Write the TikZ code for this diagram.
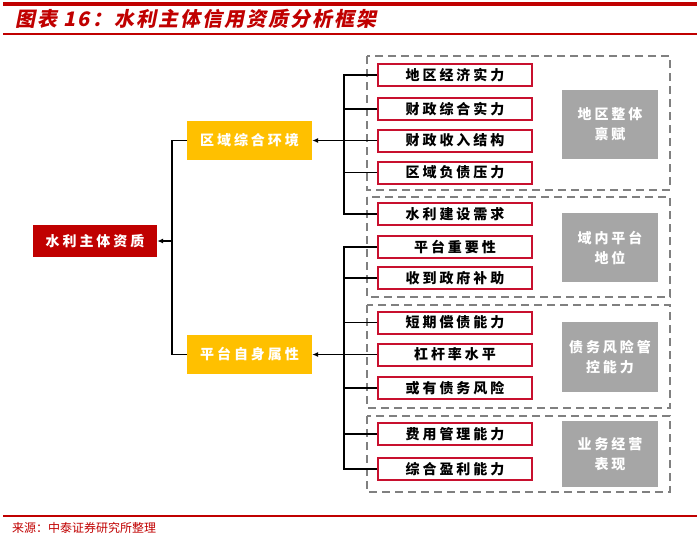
\documentclass[tikz,border=0pt]{standalone}
\usepackage{fontspec}
\usepackage{xcolor}
\usetikzlibrary{arrows.meta}
\newfontfamily\cjk[LetterSpace=21]{Noto Sans CJK SC}
\newfontfamily\cjktitle[FakeSlant=0.2,LetterSpace=10]{Noto Sans CJK SC}
\newfontfamily\cjknote{Noto Sans CJK SC}
\definecolor{deepred}{HTML}{C00000}
\definecolor{amber}{HTML}{FFC000}
\definecolor{rimred}{HTML}{C8102E}
\definecolor{slate}{HTML}{A6A6A6}
\definecolor{dashgray}{HTML}{808080}

\begin{document}
\begin{tikzpicture}[
        x=1pt, y=-1pt,
        boxtext/.style={inner sep=0pt, align=center, font=\cjk\bfseries\fontsize{14}{20}\selectfont},
        root/.style={boxtext, fill=deepred, text=white, minimum width=124pt, minimum height=32pt},
        branch/.style={boxtext, fill=amber, text=white, minimum width=125pt, minimum height=39pt},
        factor/.style={boxtext, draw=rimred, line width=2pt, fill=white, text=black, minimum width=154pt, minimum height=22pt},
        tag/.style={boxtext, fill=slate, text=white, minimum width=96pt},
        group/.style={draw=dashgray, line width=1.5pt, dash pattern=on 8pt off 5pt},
        link/.style={line width=1.2pt, black},
        arrow/.style={link, -{Latex[length=6pt,width=5pt]}},
    ]
    \useasboundingbox (0,0) rectangle (700,539);
    % title and source
    \fill[deepred] (3,2) rectangle (697,6);
    \draw[deepred, line width=1.2pt] (3,34) -- (697,34);
    \node[anchor=west, inner sep=0pt, text=deepred, font=\cjktitle\bfseries\fontsize{20}{24}\selectfont] (title) at (15,19) {图表 16：水利主体信用资质分析框架};
    \draw[deepred, line width=1.2pt] (3,516) -- (697,516);
    \node[anchor=west, inner sep=0pt, text=deepred, font=\cjknote\fontsize{12}{14}\selectfont] (source) at (12,528) {来源：中泰证券研究所整理};

    % dashed groups
    \draw[group] (367,56) rectangle (670,190);
    \draw[group] (367,197) rectangle (670,297);
    \draw[group] (367,305) rectangle (670,408);
    \draw[group] (367,416) rectangle (670,492);

    % tree
    \node[root] (root) at (95,241) {水利主体资质};
    \node[branch] (envA) at (249.5,140.5) {区域综合环境};
    \node[branch] (envB) at (249.5,354.5) {平台自身属性};

    \node[factor] (f1) at (455,75) {地区经济实力};
    \node[factor] (f2) at (455,109) {财政综合实力};
    \node[factor] (f3) at (455,140.5) {财政收入结构};
    \node[factor] (f4) at (455,172.5) {区域负债压力};
    \node[factor] (f5) at (455,214) {水利建设需求};
    \node[factor] (f6) at (455,247) {平台重要性};
    \node[factor] (f7) at (455,278) {收到政府补助};
    \node[factor] (f8) at (455,322.5) {短期偿债能力};
    \node[factor] (f9) at (455,354.5) {杠杆率水平};
    \node[factor] (f10) at (455,388) {或有债务风险};
    \node[factor] (f11) at (455,434) {费用管理能力};
    \node[factor] (f12) at (455,469) {综合盈利能力};

    \node[tag, minimum height=69pt] (tagA) at (610,124.5) {地区整体\\禀赋};
    \node[tag, minimum height=69pt] (tagB) at (610,247.5) {域内平台\\地位};
    \node[tag, minimum height=70pt] (tagC) at (610,357) {债务风险管\\控能力};
    \node[tag, minimum height=66pt] (tagD) at (610,454) {业务经营\\表现};

    % connectors
    \coordinate (jA) at (344,140.5);
    \coordinate (jB) at (344,354.5);
    \coordinate (jC) at (172,241);
    \draw[link] (f1.west) -| (jA) |- (f5.west);
    \foreach \f in {f2,f3,f4}
        \draw[link] (\f.west) -- (\f.west -| jA);
    \draw[arrow] (jA) -- (envA.east);
    \draw[link] (f6.west) -| (jB) |- (f12.west);
    \foreach \f in {f7,f8,f9,f10,f11}
        \draw[link] (\f.west) -- (\f.west -| jB);
    \draw[arrow] (jB) -- (envB.east);
    \draw[link] (envA.west) -| (jC) |- (envB.west);
    \draw[arrow] (jC) -- (root.east);
\end{tikzpicture}
\end{document}
